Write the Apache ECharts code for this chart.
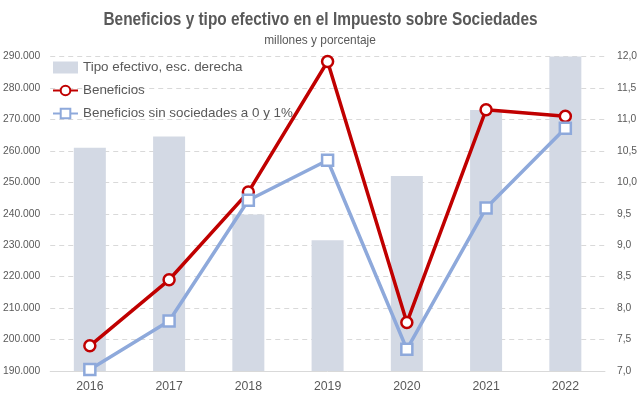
<!DOCTYPE html>
<html>
<head>
<meta charset="utf-8">
<script src="https://cdn.jsdelivr.net/npm/echarts@6/dist/echarts.min.js"></script>
<style>
html,body{margin:0;padding:0;background:#fff;}
#c{width:640px;height:399px;}
</style>
</head>
<body>
<div id="c"></div>
<script>
const years = ['2016','2017','2018','2019','2020','2021','2022'];
const tipoEfectivo = [10.55, 10.73, 9.49, 9.08, 10.10, 11.15, 12.0];
const beneficios = [198000, 219000, 246900, 288400, 205400, 273100, 271000];
const beneficiosSin = [190500, 205900, 244300, 257000, 196900, 241800, 267200];
const leftTicks = [190000, 290000, 10000];
const rightTicks = [7, 12, 0.5];
const titleText = 'Beneficios y tipo efectivo en el Impuesto sobre Sociedades';
const subtitleText = 'millones y porcentaje';

const FONT = '"Liberation Sans", Arial, sans-serif';
const GREY = '#595959';

function fmtThousands(v){
  return String(Math.round(v)).replace(/\B(?=(\d{3})+(?!\d))/g, '.');
}
function fmtDec(v){
  return v.toFixed(1).replace('.', ',');
}

const chart = echarts.init(document.getElementById('c'), null, {renderer:'canvas'});
chart.setOption({
  animation:false,
  backgroundColor:'#ffffff',
  graphic:[
    {
      type:'text', x:320.5, y:20.5, scaleX:0.856, z:10,
      style:{text:titleText, fontFamily:FONT, fontSize:18, fontWeight:'bold', fill:GREY,
             align:'center', verticalAlign:'middle'}
    },
    {
      type:'text', x:320, y:40.5, scaleX:0.88, z:10,
      style:{text:subtitleText, fontFamily:FONT, fontSize:13.5, fill:GREY,
             align:'center', verticalAlign:'middle'}
    }
  ],
  legend:{
    orient:'vertical',
    left:52,
    top:61,
    padding:0,
    itemGap:10,
    itemWidth:25,
    itemHeight:12,
    textStyle:{fontFamily:FONT, fontSize:13.4, color:GREY},
    data:[
      {name:'Tipo efectivo, esc. derecha', icon:'rect', itemStyle:{color:'#D3D9E4'}},
      {name:'Beneficios'},
      {name:'Beneficios sin sociedades a 0 y 1%'}
    ]
  },
  grid:{left:48, right:32, top:56.5, bottom:28, containLabel:false},
  xAxis:{
    type:'category',
    data:years,
    axisLine:{lineStyle:{color:'#D9D9D9', width:1}},
    axisTick:{show:false},
    axisLabel:{fontFamily:FONT, fontSize:12.3, color:GREY, margin:10}
  },
  yAxis:[
    {
      type:'value',
      min:leftTicks[0], max:leftTicks[1], interval:leftTicks[2],
      axisLine:{show:false}, axisTick:{show:false},
      splitLine:{lineStyle:{color:'#D9D9D9', type:[5,4], width:1}},
      axisLabel:{fontFamily:FONT, fontSize:10.3, color:GREY, margin:10, formatter:fmtThousands}
    },
    {
      type:'value',
      min:rightTicks[0], max:rightTicks[1], interval:rightTicks[2],
      axisLine:{show:false}, axisTick:{show:false},
      splitLine:{show:false},
      axisLabel:{fontFamily:FONT, fontSize:10.3, color:GREY, margin:12, formatter:fmtDec}
    }
  ],
  series:[
    {
      name:'Tipo efectivo, esc. derecha',
      type:'bar',
      yAxisIndex:1,
      data:tipoEfectivo,
      barWidth:32,
      itemStyle:{color:'#D3D9E4'},
      z:1
    },
    {
      name:'Beneficios',
      type:'line',
      yAxisIndex:0,
      data:beneficios,
      symbol:'circle',
      symbolSize:11,
      lineStyle:{color:'#C00000', width:3.5},
      itemStyle:{color:'#ffffff', borderColor:'#C00000', borderWidth:2.5},
      z:3
    },
    {
      name:'Beneficios sin sociedades a 0 y 1%',
      type:'line',
      yAxisIndex:0,
      data:beneficiosSin,
      symbol:'rect',
      symbolSize:11,
      lineStyle:{color:'#8EA9DB', width:3.5},
      itemStyle:{color:'#ffffff', borderColor:'#8EA9DB', borderWidth:2.5},
      z:4
    }
  ]
});
</script>
</body>
</html>
